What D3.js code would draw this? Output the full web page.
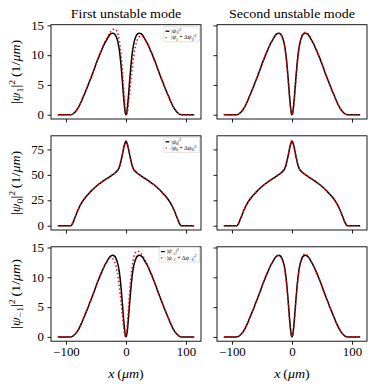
<!DOCTYPE html>
<html><head><meta charset="utf-8">
<script src="https://cdn.jsdelivr.net/npm/d3@7"></script>
<style>body{margin:0;background:#fff}svg{display:block}</style>
</head><body><svg id="c" width="382" height="390"></svg>
<script>
// ---------- data ----------
const xs = [-113.6,-100,-95,-92,-90,-87,-84,-80,-75,-70,-65,-60,-55,-50,-45,-40,-36,-32,-28,-25,-22,-19,-16,-13,-10,-8,-6,-4,-2,-1,0,1,2,4,6,8,10,13,16,19,22,25,28,32,36,40,45,50,55,60,65,70,75,80,84,87,90,92,95,100,113.6];

const modeTitles = ["First unstable mode", "Second unstable mode"];
const xTicks = [-100, 0, 100];
const yTicksPsi1 = [0, 5, 10, 15];
const yTicksPsi0 = [0, 25, 50, 75];
const yTicksPsiM1 = [0, 5, 10, 15];
const componentSubs = ["1", "0", "\u22121"];

// |psi_1|^2 ground state
const dens1 = [0,0,0,0,0.05,0.25,0.55,1.1,2.1,3.3,4.5,5.8,7.1,8.5,9.8,11.0,11.9,12.6,13.3,13.6,13.7,13.55,13.0,12.0,10.0,8.0,5.6,3.0,0.9,0.25,0,0.25,0.9,3.0,5.6,8.0,10.0,12.0,13.0,13.55,13.7,13.6,13.3,12.6,11.9,11.0,9.8,8.5,7.1,5.8,4.5,3.3,2.1,1.1,0.55,0.25,0.05,0,0,0,0];
// |psi_1 + dpsi_1|^2 first / second mode
const dens1Mode1 = [0,0,0,0,0.05,0.25,0.55,1.1,2.1,3.3,4.5,5.8,7.1,8.5,9.9,11.1,12.1,12.9,13.6,14.0,14.3,14.4,14.2,13.4,11.6,9.8,7.4,4.6,1.9,0.8,0.2,0.05,0.3,1.7,3.6,5.6,7.5,9.9,11.6,12.6,13.1,13.3,13.2,12.65,11.9,11.0,9.8,8.5,7.1,5.8,4.5,3.3,2.1,1.1,0.55,0.25,0.05,0,0,0,0];
const dens1Mode2 = [0,0,0,0,0.05,0.25,0.55,1.1,2.1,3.3,4.5,5.8,7.1,8.5,9.8,11.0,11.9,12.6,13.25,13.55,13.65,13.45,12.85,11.8,9.7,7.6,5.1,2.6,0.7,0.2,0.02,0.2,0.65,2.5,5.0,7.5,9.7,11.9,13.15,13.75,13.85,13.75,13.4,12.65,11.9,11.0,9.8,8.5,7.1,5.8,4.5,3.3,2.1,1.1,0.55,0.25,0.05,0,0,0,0];

// |psi_0|^2 ground state
const dens0 = [0,0,0,0,1.2,5,9.5,15.5,21.5,26,29.6,32.8,35.8,38.5,41,43.2,44.8,46.2,47.8,49,50.2,51.6,53.2,55.2,59.5,64.5,70,76,80.5,82.2,83,82.2,80.5,76,70,64.5,59.5,55.2,53.2,51.6,50.2,49,47.8,46.2,44.8,43.2,41,38.5,35.8,32.8,29.6,26,21.5,15.5,9.5,5,1.2,0,0,0,0];
const dens0Mode1 = [0,0,0,0,1.2,5,9.5,15.5,21.5,26,29.6,32.8,35.8,38.5,41,43.2,44.8,46.2,47.8,49,50.2,51.6,53.2,55.3,59.6,64.6,70.2,76.2,80.8,82.5,83.3,82.4,80.6,76,70,64.5,59.5,55.2,53.2,51.6,50.2,49,47.8,46.2,44.8,43.2,41,38.5,35.8,32.8,29.6,26,21.5,15.5,9.5,5,1.2,0,0,0,0];
const dens0Mode2 = [0,0,0,0,1.2,5,9.5,15.5,21.5,26,29.6,32.8,35.8,38.5,41,43.2,44.8,46.2,47.8,49,50.2,51.6,53.3,55.4,59.8,65,70.5,76.5,81.5,83.5,84.2,82.8,80.5,75,69.5,64.2,59.3,55.1,53.1,51.6,50.2,49,47.8,46.2,44.8,43.2,41,38.5,35.8,32.8,29.6,26,21.5,15.5,9.5,5,1.2,0,0,0,0];

// |psi_-1|^2 ground state
const densM1 = [0,0,0,0,0.05,0.25,0.55,1.1,2.1,3.3,4.5,5.8,7.1,8.5,9.8,11.0,11.9,12.6,13.3,13.6,13.7,13.55,13.0,12.0,10.0,8.0,5.6,3.0,0.9,0.25,0,0.25,0.9,3.0,5.6,8.0,10.0,12.0,13.0,13.55,13.7,13.6,13.3,12.6,11.9,11.0,9.8,8.5,7.1,5.8,4.5,3.3,2.1,1.1,0.55,0.25,0.05,0,0,0,0];
const densM1Mode1 = [0,0,0,0,0.05,0.25,0.55,1.1,2.1,3.3,4.5,5.8,7.1,8.5,9.8,11.0,11.9,12.65,13.2,13.3,13.1,12.6,11.6,9.9,7.5,5.6,3.6,1.7,0.3,0.05,0.2,0.8,1.9,4.6,7.4,9.8,11.6,13.4,14.2,14.4,14.3,14.0,13.6,12.9,12.1,11.1,9.9,8.5,7.1,5.8,4.5,3.3,2.1,1.1,0.55,0.25,0.05,0,0,0,0];
const densM1Mode2 = [0,0,0,0,0.05,0.25,0.55,1.1,2.1,3.3,4.5,5.8,7.1,8.5,9.8,11.0,11.9,12.6,13.25,13.55,13.65,13.45,12.85,11.8,9.7,7.6,5.1,2.6,0.7,0.2,0.02,0.2,0.7,2.6,5.1,7.6,9.8,12.0,13.2,13.8,13.9,13.8,13.45,12.7,11.9,11.0,9.8,8.5,7.1,5.8,4.5,3.3,2.1,1.1,0.55,0.25,0.05,0,0,0,0];

// ---------- layout ----------
const FONT = "'Liberation Serif','DejaVu Serif',serif";
const svg = d3.select('#c');
const cols = [{x0:51, x1:201}, {x0:217, x1:367}];
const rows = [
  {y0:24.7, y1:119,   ticks:yTicksPsi1,  black:dens1,  red:[dens1Mode1, dens1Mode2], sub:componentSubs[0], leg:{top:2.0}},
  {y0:135.8, y1:230,  ticks:yTicksPsi0,  black:dens0,  red:[dens0Mode1, dens0Mode2], sub:componentSubs[1], leg:{top:1.5}},
  {y0:246.8, y1:341.2,ticks:yTicksPsiM1, black:densM1, red:[densM1Mode1, densM1Mode2], sub:componentSubs[2], leg:{top:0.3}}
];
const STRETCH = 1.12; // Computer-Modern-like width

function padDomain(arrs){
  const all = arrs.flat();
  const [lo, hi] = d3.extent(all);
  const p = (hi - lo) * 0.05;
  return [lo - p, hi + p];
}
const xExt = d3.extent(xs); const xPad = (xExt[1]-xExt[0])*0.05;
const xDomain = [xExt[0]-xPad, xExt[1]+xPad];

function addPsiLabel(t, sub, fs, withUnits, delta){
  const small = fs*0.7;
  t.append('tspan').text('|');
  t.append('tspan').attr('font-style','italic').text('\u03c8');
  t.append('tspan').attr('font-size', small).attr('dy', fs*0.22).text(sub);
  if (delta){
    t.append('tspan').attr('dy', -fs*0.22).text(' + \u0394');
    t.append('tspan').attr('font-style','italic').text('\u03c8');
    t.append('tspan').attr('font-size', small).attr('dy', fs*0.22).text(sub);
  }
  t.append('tspan').attr('dy', -fs*0.22).text('|');
  t.append('tspan').attr('font-size', small).attr('dy', -fs*0.38).text('2');
  if (withUnits){
    t.append('tspan').attr('dy', fs*0.38).text('\u2009(1/');
    t.append('tspan').attr('font-style','italic').text('\u03bcm');
    t.append('tspan').text(')');
  }
}
function stretchText(sel, k){
  sel.each(function(){
    const w = this.getComputedTextLength();
    this.setAttribute('textLength', (w*k).toFixed(2));
    this.setAttribute('lengthAdjust','spacingAndGlyphs');
  });
}

rows.forEach((r, ri) => {
  const yDom = padDomain([r.black, ...r.red]);
  const y = d3.scaleLinear().domain(yDom).range([r.y1, r.y0]);
  cols.forEach((c, ci) => {
    const x = d3.scaleLinear().domain(xDomain).range([c.x0, c.x1]);
    const g = svg.append('g');
    const line = d3.line().x((d,i)=>x(xs[i])).y(d=>y(d)).curve(d3.curveMonotoneX);
    g.append('path').attr('d', line(r.black)).attr('fill','none')
      .attr('stroke','#000').attr('stroke-width',1.5);
    g.append('path').attr('d', line(r.red[ci])).attr('fill','none')
      .attr('stroke','#ff0000').attr('stroke-width',1.5).attr('stroke-dasharray','1.5,2.4');
    g.append('rect').attr('x',c.x0).attr('y',r.y0).attr('width',c.x1-c.x0).attr('height',r.y1-r.y0)
      .attr('fill','none').attr('stroke','#000').attr('stroke-width',0.9);
    const ya = d3.axisLeft(y).tickValues(r.ticks).tickSize(3.5).tickPadding(3.5);
    if (ci===1) ya.tickFormat('');
    const yg = g.append('g').attr('transform',`translate(${c.x0},0)`).call(ya);
    const xa = d3.axisBottom(x).tickValues(xTicks).tickSize(3.5).tickPadding(3.5);
    if (ri!==2) xa.tickFormat('');
    const xg = g.append('g').attr('transform',`translate(0,${r.y1})`).call(xa);
    [yg, xg].forEach(a => {
      a.select('.domain').remove();
      a.selectAll('line').attr('stroke','#000').attr('stroke-width',0.9);
      a.selectAll('text').attr('font-family',FONT).attr('font-size',11.5).attr('fill','#000');
      stretchText(a.selectAll('text').filter(function(){return this.textContent.length>0;}), STRETCH);
    });
    if (ri===0){
      const tt = svg.append('text').attr('x',(c.x0+c.x1)/2).attr('y',18.3).attr('text-anchor','middle')
        .attr('font-family',FONT).attr('font-size',12.5).text(modeTitles[ci]);
      stretchText(tt, STRETCH);
    }
    if (ri===2){
      const gx = svg.append('g').attr('transform',`translate(${(c.x0+c.x1)/2},377.5) scale(${STRETCH},1)`);
      const t = gx.append('text').attr('x',0).attr('y',0).attr('text-anchor','middle')
        .attr('font-family',FONT).attr('font-size',12.5);
      t.append('tspan').attr('font-style','italic').text('x');
      t.append('tspan').text('\u2009(');
      t.append('tspan').attr('font-style','italic').text('\u03bcm');
      t.append('tspan').text(')');
    }
    if (ci===0){
      const fs = 5.8;
      const lg = svg.append('g');
      const box = lg.append('rect');
      const t1 = lg.append('text').attr('font-family',FONT).attr('font-size',fs).attr('x',0).attr('y',0);
      addPsiLabel(t1, r.sub, fs, false, false);
      const t2 = lg.append('text').attr('font-family',FONT).attr('font-size',fs).attr('x',0).attr('y',0);
      addPsiLabel(t2, r.sub, fs, false, true);
      const w = Math.max(t1.node().getBBox().width, t2.node().getBBox().width);
      const right = c.x1 - 1.5, top = r.y0 + r.leg.top;
      const boxW = w + 10.5, boxH = 15;
      const left = right - boxW;
      box.attr('x',left).attr('y',top).attr('width',boxW).attr('height',boxH).attr('rx',1)
        .attr('fill','#fff').attr('fill-opacity',0.8).attr('stroke','#cccccc').attr('stroke-width',0.6);
      const tx = left + 7.5;
      t1.attr('x',tx).attr('y',top+6.2);
      t2.attr('x',tx).attr('y',top+12.6);
      lg.append('line').attr('x1',left+1.8).attr('x2',left+5.6).attr('y1',top+4.5).attr('y2',top+4.5)
        .attr('stroke','#000').attr('stroke-width',1.3);
      lg.append('line').attr('x1',left+1.8).attr('x2',left+5.6).attr('y1',top+10.9).attr('y2',top+10.9)
        .attr('stroke','#ff0000').attr('stroke-width',1.3).attr('stroke-dasharray','1.2,2.5');
    }
  });
  const fs = 12.5;
  const cy = (r.y0 + r.y1)/2;
  const gl = svg.append('g').attr('transform',`translate(20,${cy}) rotate(-90) scale(${STRETCH},1)`);
  const t = gl.append('text').attr('text-anchor','middle').attr('font-family',FONT).attr('font-size',fs);
  addPsiLabel(t, r.sub, fs, true, false);
});
</script></body></html>
